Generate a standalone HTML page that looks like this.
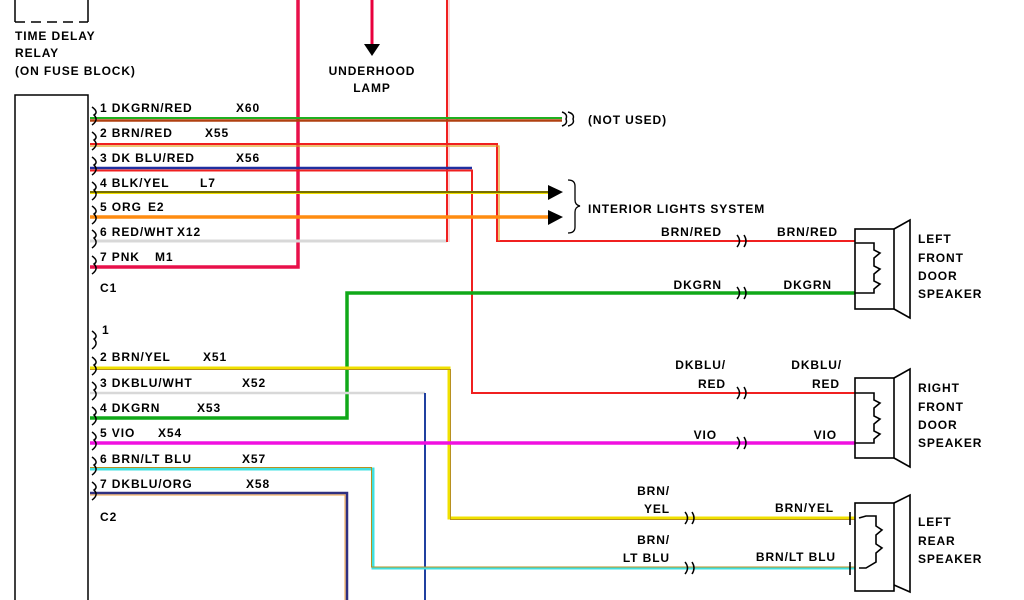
<!DOCTYPE html>
<html><head><meta charset="utf-8"><style>
html,body{margin:0;padding:0;background:#fff;}
svg{display:block;}
text{font-family:"Liberation Sans",sans-serif;font-size:12px;font-weight:bold;fill:#000;letter-spacing:0.9px;}
</style></head><body>
<svg width="1024" height="600" viewBox="0 0 1024 600" xmlns="http://www.w3.org/2000/svg">
<rect width="1024" height="600" fill="#fff"/>
<path d="M15 0 V22" stroke="#000" stroke-width="1.5" fill="none"/>
<path d="M15 22 H88" stroke="#000" stroke-width="1.5" stroke-dasharray="10,6" fill="none"/>
<path d="M88 0 V22" stroke="#000" stroke-width="1.5" fill="none"/>
<text x="15" y="40">TIME DELAY</text>
<text x="15" y="57">RELAY</text>
<text x="15" y="75">(ON FUSE BLOCK)</text>
<path d="M15 600 V95 H88 V600" stroke="#000" stroke-width="1.5" fill="none"/>
<line x1="372" y1="0" x2="372" y2="44" stroke="#e8003c" stroke-width="3"/>
<polygon points="364,44 380,44 372,56" fill="#000"/>
<text x="372" y="75" text-anchor="middle">UNDERHOOD</text>
<text x="372" y="92" text-anchor="middle">LAMP</text>
<path d="M90 267 H298 V0" stroke="#e8104a" stroke-width="3.5" fill="none"/>
<path d="M90 241 H447" stroke="#d8d8d8" stroke-width="3" fill="none"/>
<path d="M447 242 V0" stroke="#f02020" stroke-width="2" fill="none"/>
<path d="M449 242 V0" stroke="#f4b0b0" stroke-width="1" fill="none"/>
<path d="M90 118 H562" stroke="#20b020" stroke-width="2" fill="none"/>
<path d="M90 120.5 H562" stroke="#b04010" stroke-width="2.5" fill="none"/>
<path d="M90 144 H497 V241 H855" stroke="#f02020" stroke-width="2" fill="none"/>
<path d="M90 146 H499 V241" stroke="#e0a020" stroke-width="1.2" fill="none"/>
<path d="M90 168 H472" stroke="#2030a0" stroke-width="2.5" fill="none"/>
<path d="M90 170.5 H472 V393 H855" stroke="#f02020" stroke-width="2" fill="none"/>
<path d="M90 192.5 H550" stroke="#f0e000" stroke-width="3" fill="none"/>
<path d="M90 192 H550" stroke="#000" stroke-width="1" fill="none"/>
<polygon points="548,185 563,192 548,200" fill="#000"/>
<path d="M90 217 H550" stroke="#ff8c10" stroke-width="3.5" fill="none"/>
<polygon points="548,210 563,217 548,225" fill="#000"/>
<path d="M568 180 Q575 180 575 186 V200 Q575 205 580 206 Q575 207 575 212 V227 Q575 233 568 233" stroke="#000" stroke-width="1.3" fill="none"/>
<text x="588" y="213">INTERIOR LIGHTS SYSTEM</text>
<path d="M562 112 Q568 114 566 119 Q568 124 562 126 M568 112 Q575 114 573 119 Q575 124 568 126" stroke="#000" stroke-width="1.5" fill="none"/>
<text x="588" y="124">(NOT USED)</text>
<path d="M90 418 H347 V293 H855" stroke="#10a818" stroke-width="3.5" fill="none"/>
<path d="M90 368 H449 V518 H855" stroke="#f0e000" stroke-width="3" fill="none"/>
<path d="M90 369.5 H450.5 V519.5 H855" stroke="#b89020" stroke-width="1" fill="none"/>
<path d="M90 393 H425" stroke="#d8d8d8" stroke-width="2.5" fill="none"/>
<path d="M425 393 V600" stroke="#2040a0" stroke-width="2" fill="none"/>
<path d="M90 443 H855" stroke="#f010e0" stroke-width="3.5" fill="none"/>
<path d="M90 469 H373 V568 H855" stroke="#40e0e0" stroke-width="3" fill="none"/>
<path d="M90 467.5 H371.5 V567 H855" stroke="#b89020" stroke-width="1" fill="none"/>
<path d="M90 493 H347 V600" stroke="#303080" stroke-width="2.5" fill="none"/>
<path d="M90 495 H345 V600" stroke="#f0a040" stroke-width="1" fill="none"/>
<g>
<text x="100" y="112">1 DKGRN/RED</text><text x="236" y="112">X60</text>
<text x="100" y="137">2 BRN/RED</text><text x="205" y="137">X55</text>
<text x="100" y="162">3 DK BLU/RED</text><text x="236" y="162">X56</text>
<text x="100" y="187">4 BLK/YEL</text><text x="200" y="187">L7</text>
<text x="100" y="211">5 ORG</text><text x="148" y="211">E2</text>
<text x="100" y="236">6 RED/WHT</text><text x="177" y="236">X12</text>
<text x="100" y="261">7 PNK</text><text x="155" y="261">M1</text>
<text x="100" y="292">C1</text>
<text x="102" y="334">1</text>
<text x="100" y="361">2 BRN/YEL</text><text x="203" y="361">X51</text>
<text x="100" y="387">3 DKBLU/WHT</text><text x="242" y="387">X52</text>
<text x="100" y="412">4 DKGRN</text><text x="197" y="412">X53</text>
<text x="100" y="437">5 VIO</text><text x="158" y="437">X54</text>
<text x="100" y="463">6 BRN/LT BLU</text><text x="242" y="463">X57</text>
<text x="100" y="488">7 DKBLU/ORG</text><text x="246" y="488">X58</text>
<text x="100" y="521">C2</text>
</g>
<g stroke="#000" stroke-width="1.5" fill="none">
<path d="M92 107 Q99 112 94 115 Q99 120 92 125"/>
<path d="M92 132 Q99 137 94 140 Q99 145 92 150"/>
<path d="M92 157 Q99 162 94 165 Q99 170 92 175"/>
<path d="M92 182 Q99 187 94 190 Q99 195 92 200"/>
<path d="M92 206 Q99 211 94 214 Q99 219 92 224"/>
<path d="M92 230 Q99 235 94 238 Q99 243 92 248"/>
<path d="M92 256 Q99 261 94 264 Q99 269 92 274"/>
<path d="M92 331 Q99 336 94 339 Q99 344 92 349"/>
<path d="M92 357 Q99 362 94 365 Q99 370 92 375"/>
<path d="M92 382 Q99 387 94 390 Q99 395 92 400"/>
<path d="M92 407 Q99 412 94 415 Q99 420 92 425"/>
<path d="M92 432 Q99 437 94 440 Q99 445 92 450"/>
<path d="M92 457 Q99 462 94 465 Q99 470 92 475"/>
<path d="M92 482 Q99 487 94 490 Q99 495 92 500"/>
</g>
<g stroke="#000" stroke-width="1.5" fill="none">
<path d="M737 235 Q742 241 737 247 M744 235 Q748 241 744 247"/>
<path d="M737 287 Q742 293 737 299 M744 287 Q748 293 744 299"/>
<path d="M737 387 Q742 393 737 399 M744 387 Q748 393 744 399"/>
<path d="M737 437 Q742 443 737 449 M744 437 Q748 443 744 449"/>
<path d="M685 512 Q690 518 685 524 M692 512 Q696 518 692 524"/>
<path d="M685 562 Q690 568 685 574 M692 562 Q696 568 692 574"/>
</g>
<text x="722" y="236" text-anchor="end">BRN/RED</text>
<text x="838" y="236" text-anchor="end">BRN/RED</text>
<text x="722" y="289" text-anchor="end">DKGRN</text>
<text x="832" y="289" text-anchor="end">DKGRN</text>
<text x="726" y="369" text-anchor="end">DKBLU/</text>
<text x="726" y="388" text-anchor="end">RED</text>
<text x="842" y="369" text-anchor="end">DKBLU/</text>
<text x="840" y="388" text-anchor="end">RED</text>
<text x="717" y="439" text-anchor="end">VIO</text>
<text x="837" y="439" text-anchor="end">VIO</text>
<text x="670" y="495" text-anchor="end">BRN/</text>
<text x="670" y="513" text-anchor="end">YEL</text>
<text x="834" y="512" text-anchor="end">BRN/YEL</text>
<text x="670" y="544" text-anchor="end">BRN/</text>
<text x="670" y="562" text-anchor="end">LT BLU</text>
<text x="836" y="561" text-anchor="end">BRN/LT BLU</text>
<g stroke="#000" stroke-width="1.6" fill="none">
<rect x="855" y="229" width="39" height="80"/>
<path d="M894 229 L910 220 V318 L894 309"/>
<path d="M855 243 H874 V250 L880 253 L874 258 V266 L880 269 L874 274 V281 L880 284 L874 289 V293 H855"/>
<rect x="855" y="378" width="39" height="80"/>
<path d="M894 378 L910 369 V467 L894 458"/>
<path d="M855 393 H874 V400 L880 403 L874 408 V416 L880 419 L874 424 V431 L880 434 L874 439 V443 H855"/>
<rect x="855" y="503" width="39" height="88"/>
<path d="M894 503 L910 495 V592 L894 585"/>
<path d="M850 512 V525 M859 518 L866 516 H876 V526 L882 530 L876 535 V544 L882 548 L876 553 V562 L866 568 H859"/>
<path d="M850 562 V575"/>
</g>
<text x="918" y="243">LEFT</text>
<text x="918" y="262">FRONT</text>
<text x="918" y="280">DOOR</text>
<text x="918" y="298">SPEAKER</text>
<text x="918" y="392">RIGHT</text>
<text x="918" y="411">FRONT</text>
<text x="918" y="429">DOOR</text>
<text x="918" y="447">SPEAKER</text>
<text x="918" y="526">LEFT</text>
<text x="918" y="545">REAR</text>
<text x="918" y="563">SPEAKER</text>
</svg>
</body></html>
